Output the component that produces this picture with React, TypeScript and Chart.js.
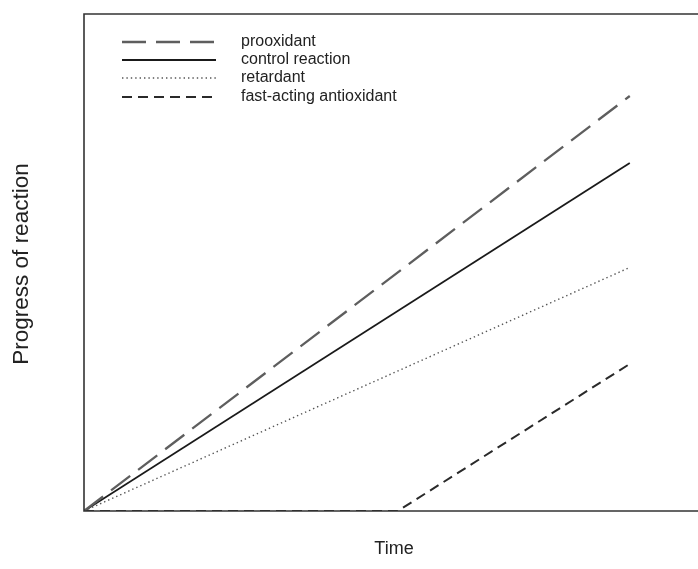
import React, { useEffect, useRef } from "react";
import { Chart, registerables } from "chart.js";

Chart.register(...registerables);

const seriesNames = ["prooxidant", "control reaction", "retardant", "fast-acting antioxidant"];
const timeProox = [0, 10];
const valProox = [0, 83.5];
const timeControl = [0, 10];
const valControl = [0, 70];
const timeRetard = [0, 10];
const valRetard = [0, 49];
const timeFast = [0, 5.75, 10];
const valFast = [0, 0, 29.6];
const xTitle = "Time";
const yTitle = "Progress of reaction";

const styles = [
  { color: "#5e5e5e", width: 2.3, dash: [24, 10] },
  { color: "#1a1a1a", width: 1.8, dash: [] as number[] },
  { color: "#555555", width: 1.4, dash: [1.4, 3] },
  { color: "#2a2a2a", width: 2, dash: [10, 6] },
];

const pts = (xs: number[], ys: number[]) => xs.map((x, i) => ({ x, y: ys[i] }));

export default function App() {
  const ref = useRef<HTMLCanvasElement | null>(null);
  useEffect(() => {
    document.body.style.margin = "0";
    const canvas = ref.current!;
    const decor = {
      id: "decor",
      afterDatasetsDraw(chart: any) {
        const { ctx, chartArea } = chart;
        const { left, top, right, bottom } = chartArea;
        ctx.save();
        ctx.strokeStyle = "#333";
        ctx.lineWidth = 1.6;
        ctx.setLineDash([]);
        ctx.beginPath();
        ctx.moveTo(right + 2, top);
        ctx.lineTo(left, top);
        ctx.lineTo(left, bottom);
        ctx.lineTo(right + 2, bottom);
        ctx.stroke();
        // legend
        const rowsY = [42, 60, 78, 97];
        ctx.font = "16px 'Liberation Sans', Arial, sans-serif";
        ctx.textBaseline = "middle";
        ctx.textAlign = "left";
        seriesNames.forEach((name, i) => {
          const s = styles[i];
          ctx.strokeStyle = s.color;
          ctx.lineWidth = s.width;
          ctx.setLineDash(s.dash);
          ctx.beginPath();
          ctx.moveTo(122, rowsY[i]);
          ctx.lineTo(216, rowsY[i]);
          ctx.stroke();
          ctx.setLineDash([]);
          ctx.fillStyle = "#222";
          ctx.fillText(name, 241, rowsY[i]);
        });
        // axis titles
        ctx.font = "18px 'Liberation Sans', Arial, sans-serif";
        ctx.textAlign = "center";
        ctx.fillStyle = "#222";
        ctx.fillText(xTitle, 394, 549);
        ctx.save();
        ctx.font = "22.5px 'Liberation Sans', Arial, sans-serif";
        ctx.translate(22, 264);
        ctx.rotate(-Math.PI / 2);
        ctx.fillText(yTitle, 0, 0);
        ctx.restore();
        ctx.restore();
      },
    };
    const series = [
      pts(timeProox, valProox),
      pts(timeControl, valControl),
      pts(timeRetard, valRetard),
      pts(timeFast, valFast),
    ];
    const chart = new Chart(canvas, {
      type: "line",
      data: {
        datasets: series.map((d, i) => ({
          label: seriesNames[i],
          data: d,
          borderColor: styles[i].color,
          borderWidth: styles[i].width,
          borderDash: styles[i].dash,
          pointRadius: 0,
          fill: false,
          tension: 0,
        })),
      },
      options: {
        animation: false,
        responsive: false,
        maintainAspectRatio: false,
        layout: { padding: { left: 84, top: 14, right: 0, bottom: 58 } },
        plugins: { legend: { display: false }, tooltip: { enabled: false } },
        scales: {
          x: { type: "linear", min: 0, max: 11.25, display: false },
          y: { type: "linear", min: 0, max: 100, display: false },
        },
      },
      plugins: [decor],
    });
    return () => chart.destroy();
  }, []);
  return (
    <div style={{ width: 698, height: 569, background: "#fff" }}>
      <canvas ref={ref} width={698} height={569} style={{ display: "block" }} />
    </div>
  );
}
